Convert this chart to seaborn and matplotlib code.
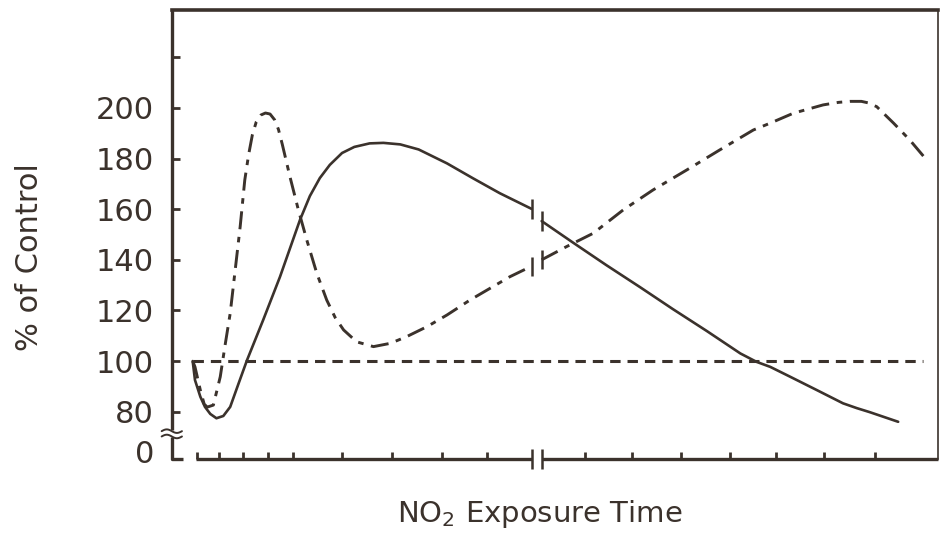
import numpy as np
import pandas as pd
import matplotlib
matplotlib.use("Agg")
import matplotlib.pyplot as plt
import seaborn as sns

# ---- data: exposure time (arbitrary units) vs. response (% of control) ----
# Solid curve: early phase (before the time-axis break) and late phase
solid_time_early = [2.7, 3.0, 3.7, 4.3, 5.0, 5.8, 6.7, 7.6, 8.7, 9.8, 11.9, 14.1,
                    16.7, 18.0, 19.3, 20.6, 22.2, 23.8, 25.8, 27.6, 29.8, 32.2,
                    35.9, 39.3, 42.8, 46.96]
solid_pct_early = [100, 92.5, 85.9, 81.9, 79.1, 77.4, 78.3, 81.9, 91.2, 100.4,
                   116.2, 133.3, 155.7, 165.2, 172.3, 177.5, 182.2, 184.6,
                   186.0, 186.2, 185.6, 183.6, 178.1, 172.2, 166.3, 160.1]
solid_time_late = [48.26, 52.4, 56.7, 61.1, 65.4, 69.8, 74.2, 76.3, 78.1, 80.7,
                   84.2, 87.6, 89.4, 91.1, 94.8]
solid_pct_late = [155.3, 146.7, 137.9, 129.2, 120.5, 111.9, 103.0, 99.7, 97.7,
                  93.8, 88.5, 83.3, 81.4, 79.8, 76.0]

# Dash-dot curve: early phase and late phase
dashdot_time_early = [2.7, 3.0, 3.7, 4.2, 4.6, 5.4, 6.3, 6.9, 7.6, 8.2, 8.9, 9.5,
                      10.0, 10.5, 11.0, 11.6, 12.2, 12.8, 13.4, 13.9, 14.4, 15.4,
                      16.5, 17.6, 18.9, 20.2, 21.3, 22.4, 24.1, 26.3, 28.5, 30.6,
                      33.3, 35.9, 38.9, 41.5, 44.1, 46.96]
dashdot_pct_early = [100, 97.7, 88.5, 83.0, 81.8, 82.6, 93.8, 105.7, 118.9, 134.7,
                     153.1, 171.5, 181.5, 189.5, 194.5, 197.2, 198.0, 197.6,
                     195.3, 191.5, 185.6, 172.8, 159.7, 147.8, 134.7, 124.1,
                     117.2, 112.3, 107.6, 105.7, 107.0, 109.6, 113.6, 118.2,
                     124.1, 128.7, 133.3, 137.5]
dashdot_time_late = [48.26, 51.5, 55.0, 58.9, 62.8, 67.2, 71.5, 75.9, 78.1, 81.1,
                     85.0, 87.0, 88.5, 90.0, 90.9, 92.0, 94.2, 96.3, 98.7]
dashdot_pct_late = [140.0, 145.2, 150.5, 159.7, 167.6, 175.5, 183.4, 191.3, 194.0,
                    197.9, 201.2, 202.2, 202.6, 202.6, 202.0, 200.5, 194.0,
                    187.4, 178.8]

# Control level
control_time = [2.7, 98.0]
control_pct = [100, 100]

# Axis ticks
ytick_values = [80, 100, 120, 140, 160, 180, 200, 220]
ytick_labels = ["80", "100", "120", "140", "160", "180", "200", ""]
zero_label = "0"
xtick_positions = [3.2, 6.1, 9.3, 12.5, 15.8, 22.2, 28.7, 35.2, 41.1,
                   53.9, 60.0, 66.4, 72.9, 78.9, 85.1, 91.8]

# ---- axis geometry ----
X_MIN, X_MAX = 0.0, 100.0
Y_MIN, Y_MAX = 61.3, 238.7
ZERO_POS = 64.4             # where the broken axis places its "0"
BREAK_LEFT, BREAK_RIGHT = 46.96, 48.26
AXIS_START = 3.1

INK = "#3b322c"

sns.set_style("white")
plt.rcParams.update({
    "font.family": ["DejaVu Sans"],
    "lines.scale_dashes": False,
    "text.color": INK,
    "axes.edgecolor": INK,
})

fig = plt.figure(figsize=(9.41, 5.41), dpi=100, facecolor="white")
ax = fig.add_axes([172 / 941, 1 - 459 / 541, 766 / 941, 449 / 541])
ax.set_facecolor("white")


def two_phase(t_early, p_early, t_late, p_late):
    return pd.DataFrame({
        "time": list(t_early) + list(t_late),
        "pct": list(p_early) + list(p_late),
        "segment": [0] * len(t_early) + [1] * len(t_late),
    })


solid_df = two_phase(solid_time_early, solid_pct_early, solid_time_late, solid_pct_late)
dashdot_df = two_phase(dashdot_time_early, dashdot_pct_early,
                       dashdot_time_late, dashdot_pct_late)
control_df = pd.DataFrame({"time": control_time, "pct": control_pct})

sns.lineplot(data=control_df, x="time", y="pct", ax=ax, color=INK, linewidth=2.2,
             linestyle=(0, (7.5, 5.0)), sort=False, estimator=None, legend=False)
sns.lineplot(data=dashdot_df, x="time", y="pct", units="segment", estimator=None,
             sort=False, ax=ax, color=INK, linewidth=2.1,
             linestyle=(0, (13, 5.5, 4, 5.5)), legend=False)
sns.lineplot(data=solid_df, x="time", y="pct", units="segment", estimator=None,
             sort=False, ax=ax, color=INK, linewidth=1.9, legend=False)

# break marks on each curve
for t_early, p_early, t_late, p_late in [
        (solid_time_early, solid_pct_early, solid_time_late, solid_pct_late),
        (dashdot_time_early, dashdot_pct_early, dashdot_time_late, dashdot_pct_late)]:
    for xb, yb in [(t_early[-1], p_early[-1]), (t_late[0], p_late[0])]:
        ax.plot([xb, xb], [yb - 3.8, yb + 3.8], color=INK, lw=1.8,
                solid_capstyle="butt")

ax.set_xlim(X_MIN, X_MAX)
ax.set_ylim(Y_MIN, Y_MAX)
ax.set_xlabel("")
ax.set_ylabel("")

# frame: heavy top, light right; left and bottom drawn with breaks
ax.spines["top"].set_linewidth(2.6)
ax.spines["right"].set_linewidth(1.2)
ax.spines["left"].set_visible(False)
ax.spines["bottom"].set_visible(False)

frame = dict(color=INK, lw=2.4, clip_on=False, solid_capstyle="butt")
ax.plot([X_MIN, X_MIN], [Y_MAX, 72.6], **frame)
ax.plot([X_MIN, X_MIN, 1.4], [70.0, Y_MIN, Y_MIN], **frame)
ax.plot([AXIS_START, BREAK_LEFT], [Y_MIN, Y_MIN], **frame)
ax.plot([BREAK_RIGHT, X_MAX], [Y_MIN, Y_MIN], **frame)
for xb in (BREAK_LEFT, BREAK_RIGHT):
    ax.plot([xb, xb], [Y_MIN - 4.0, Y_MIN + 4.0], color=INK, lw=1.8,
            clip_on=False, solid_capstyle="butt")

# wavy break symbol on the value axis
wave_t = np.linspace(-1.35, 1.3, 40)
for level in (72.3, 70.2):
    ax.plot(wave_t, level + 0.7 * np.sin((wave_t + 1.35) / 2.65 * 2 * np.pi),
            color=INK, lw=1.4, clip_on=False)

# ticks
ax.set_yticks([ZERO_POS] + ytick_values)
ax.set_yticklabels([zero_label] + ytick_labels)
ax.set_xticks(xtick_positions)
ax.set_xticklabels([])
ax.tick_params(axis="y", direction="in", length=6, width=2.0, color=INK,
               labelsize=22, labelcolor=INK, pad=13, left=True)
ax.tick_params(axis="x", direction="in", length=5, width=2.0, color=INK,
               bottom=True, labelbottom=False)
ax.yaxis.get_major_ticks()[0].tick1line.set_visible(False)

fig.text(30 / 941, 1 - 257 / 541, "% of Control", rotation=90, fontsize=22,
         ha="center", va="center", color=INK)
fig.text(540 / 941, 1 - 522 / 541, "NO$_2$ Exposure Time", fontsize=21,
         ha="center", va="baseline", color=INK)

fig.savefig("out.png", dpi=100, facecolor="white")
